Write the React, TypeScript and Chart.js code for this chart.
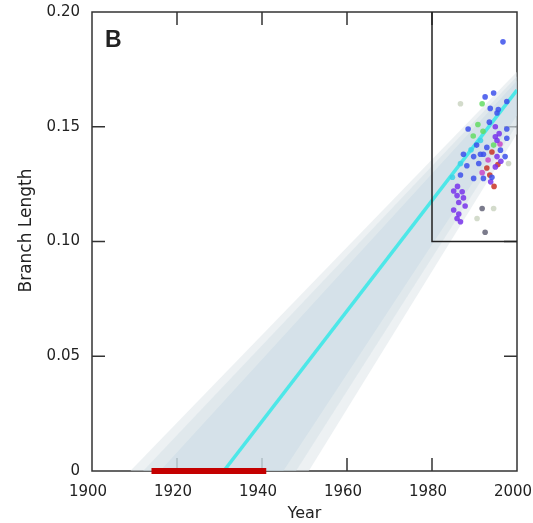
import React, { useEffect, useRef } from "react";
import { Chart, registerables } from "chart.js";

Chart.register(...registerables);

const xTickValues = [1900, 1920, 1940, 1960, 1980, 2000];
const yTickValues = [0, 0.05, 0.1, 0.15, 0.2];
const innerTickYears = [1920, 1940, 1960, 1980];
const innerTickValues = [0.05, 0.1, 0.15];

const regressionLine = [{ x: 1931, y: 0 }, { x: 2000, y: 0.166 }];
const hpdBar = [{ x: 1914, y: 0 }, { x: 1941, y: 0 }];
const boxOutline = [{ x: 1980, y: 0.2 }, { x: 1980, y: 0.1 }, { x: 2000, y: 0.1 }];

const outerBandUpper = [{ x: 1909, y: 0 }, { x: 2000, y: 0.174 }];
const outerBandLower = [{ x: 1909, y: 0 }, { x: 1951, y: 0 }, { x: 2000, y: 0.147 }];
const midBandUpper = [{ x: 1912, y: 0 }, { x: 2000, y: 0.172 }];
const midBandLower = [{ x: 1912, y: 0 }, { x: 1948, y: 0 }, { x: 2000, y: 0.151 }];
const coreBandUpper = [{ x: 1916, y: 0 }, { x: 2000, y: 0.170 }];
const coreBandLower = [{ x: 1916, y: 0 }, { x: 1945, y: 0 }, { x: 2000, y: 0.155 }];

const bluePoints = [
  [1994.5, 0.1647], [1992.5, 0.163], [1997.6, 0.161], [1993.7, 0.158], [1995.3, 0.156],
  [1995.6, 0.1575], [1988.5, 0.149], [1997.6, 0.149], [1997.6, 0.145], [1987.4, 0.138],
  [1991.4, 0.138], [1996.1, 0.1398], [1992.9, 0.141], [1997.2, 0.137], [1989.8, 0.137],
  [1992.1, 0.138], [1988.2, 0.133], [1991.0, 0.134], [1986.7, 0.129], [1989.8, 0.1275],
  [1992.1, 0.1275], [1994.1, 0.128], [1996.7, 0.187], [1993.5, 0.152], [1990.5, 0.142],
];
const purplePoints = [
  [1994.9, 0.150], [1994.9, 0.1456], [1995.3, 0.144], [1995.3, 0.137], [1994.9, 0.1325],
  [1985.1, 0.122], [1987.1, 0.1217], [1985.9, 0.120], [1987.4, 0.119], [1986.3, 0.117],
  [1985.1, 0.1137], [1986.3, 0.112], [1985.9, 0.110], [1986.7, 0.1086], [1995.8, 0.147],
  [1996.2, 0.135], [1993.8, 0.126], [1986.0, 0.124], [1987.8, 0.1155],
];
const greenPoints = [[1991.8, 0.160], [1992.0, 0.148], [1989.7, 0.146], [1994.5, 0.142], [1990.8, 0.151]];
const cyanPoints = [[1991.4, 0.144], [1986.7, 0.134], [1989.2, 0.140], [1984.8, 0.128]];
const redPoints = [[1994.1, 0.139], [1992.9, 0.132], [1993.6, 0.129], [1995.5, 0.1335], [1994.6, 0.124]];
const magentaPoints = [[1991.8, 0.130], [1993.2, 0.1355], [1996.0, 0.1425]];
const grayPoints = [[1991.8, 0.1144], [1992.5, 0.104]];
const lightPoints = [[1986.7, 0.160], [1994.5, 0.1144], [1990.6, 0.110], [1998.0, 0.134]];

const FONT = "'DejaVu Sans', sans-serif";

const toXY = (pts: number[][]) => pts.map(([x, y]) => ({ x, y }));

const scatterSet = (data: number[][], color: string) => ({
  type: "scatter" as const,
  data: toXY(data),
  backgroundColor: color,
  borderWidth: 0,
  pointRadius: 2.8,
  order: 1,
});

const bandSet = (data: any, fillColor: string | false, order: number) => ({
  type: "line" as const,
  data,
  borderWidth: 0,
  pointRadius: 0,
  fill: fillColor ? "+1" : false,
  backgroundColor: fillColor || "transparent",
  borderColor: "transparent",
  order,
  tension: 0,
});

const framePlugin = {
  id: "frame",
  beforeDatasetsDraw(chart: any) {
    const { ctx, chartArea: a, scales } = chart;
    ctx.save();
    ctx.strokeStyle = "#333";
    ctx.lineWidth = 1.5;
    ctx.strokeRect(a.left, a.top, a.right - a.left, a.bottom - a.top);
    const len = 13;
    ctx.beginPath();
    innerTickYears.forEach((yr) => {
      const px = scales.x.getPixelForValue(yr);
      ctx.moveTo(px, a.bottom);
      ctx.lineTo(px, a.bottom - len);
      ctx.moveTo(px, a.top);
      ctx.lineTo(px, a.top + len);
    });
    innerTickValues.forEach((v) => {
      const py = scales.y.getPixelForValue(v);
      ctx.moveTo(a.left, py);
      ctx.lineTo(a.left + len, py);
      ctx.moveTo(a.right, py);
      ctx.lineTo(a.right - len, py);
    });
    ctx.stroke();
    ctx.restore();
  },
  afterDraw(chart: any) {
    const { ctx, chartArea: a } = chart;
    ctx.save();
    ctx.fillStyle = "#222";
    ctx.font = "bold 23px 'Liberation Sans', Arial, sans-serif";
    ctx.textBaseline = "alphabetic";
    ctx.textAlign = "left";
    ctx.fillText("B", a.left + 13, a.top + 35);
    ctx.font = `17px ${FONT}`;
    ctx.translate(27, a.top + (a.bottom - a.top) / 2 - 11);
    ctx.rotate(-Math.PI / 2);
    ctx.textAlign = "center";
    ctx.textBaseline = "middle";
    ctx.fillText("Branch Length", 0, 0);
    ctx.restore();
  },
};

export default function App() {
  const ref = useRef<HTMLCanvasElement>(null);
  useEffect(() => {
    if (!ref.current) return;
    const chart = new Chart(ref.current, {
      type: "scatter",
      data: {
        datasets: [
          {
            type: "line",
            data: boxOutline,
            borderColor: "#222",
            borderWidth: 1.5,
            pointRadius: 0,
            fill: false,
            order: 0,
          } as any,
          {
            type: "line",
            data: hpdBar,
            borderColor: "#c40000",
            borderWidth: 6,
            pointRadius: 0,
            fill: false,
            clip: false,
            order: 0,
          } as any,
          scatterSet(bluePoints, "rgba(60,80,235,0.85)"),
          scatterSet(purplePoints, "rgba(120,50,235,0.85)"),
          scatterSet(greenPoints, "rgba(100,220,100,0.85)"),
          scatterSet(cyanPoints, "rgba(60,210,230,0.85)"),
          scatterSet(redPoints, "rgba(200,50,40,0.85)"),
          scatterSet(magentaPoints, "rgba(200,70,200,0.85)"),
          scatterSet(grayPoints, "rgba(100,100,120,0.85)"),
          scatterSet(lightPoints, "rgba(200,210,190,0.8)"),
          {
            type: "line",
            data: regressionLine,
            borderColor: "rgba(70,232,232,0.95)",
            borderWidth: 3.5,
            pointRadius: 0,
            fill: false,
            order: 2,
          } as any,
          bandSet(coreBandUpper, "rgba(196,216,228,0.4)", 3),
          bandSet(coreBandLower, false, 3),
          bandSet(midBandUpper, "rgba(205,219,228,0.4)", 4),
          bandSet(midBandLower, false, 4),
          bandSet(outerBandUpper, "rgba(220,228,232,0.5)", 5),
          bandSet(outerBandLower, false, 5),
        ],
      },
      options: {
        animation: false,
        responsive: false,
        layout: { padding: { left: 0, right: 16, top: 12, bottom: 0 } },
        plugins: { legend: { display: false }, tooltip: { enabled: false } },
        scales: {
          x: {
            type: "linear",
            min: 1900,
            max: 2000,
            grid: { display: false, drawTicks: false },
            border: { display: false },
            afterBuildTicks: (s: any) => {
              s.ticks = xTickValues.map((v) => ({ value: v }));
            },
            afterFit: (s: any) => {
              s.height = 52;
              s.paddingLeft = 0;
              s.paddingRight = 0;
            },
            ticks: {
              padding: 12,
              labelOffset: -4,
              color: "#222",
              font: { family: FONT, size: 15 },
              maxRotation: 0,
              callback: (v: any) => String(v),
            },
            title: {
              display: true,
              text: "Year",
              color: "#222",
              font: { family: FONT, size: 16 },
              padding: { top: 0, bottom: 0 },
            },
          },
          y: {
            type: "linear",
            min: 0,
            max: 0.2,
            grid: { display: false, drawTicks: false },
            border: { display: false },
            afterBuildTicks: (s: any) => {
              s.ticks = yTickValues.map((v) => ({ value: v }));
            },
            afterFit: (s: any) => {
              s.width = 92;
              s.paddingTop = 0;
              s.paddingBottom = 0;
            },
            ticks: {
              padding: 12,
              color: "#222",
              font: { family: FONT, size: 15 },
              callback: (v: any) => (v === 0 ? "0" : Number(v).toFixed(2)),
            },
          },
        },
      },
      plugins: [framePlugin],
    } as any);
    return () => chart.destroy();
  }, []);
  return (
    <div style={{ position: "absolute", left: 0, top: 0, width: 533, height: 523, background: "#fff" }}>
      <canvas ref={ref} width={533} height={523} />
    </div>
  );
}
